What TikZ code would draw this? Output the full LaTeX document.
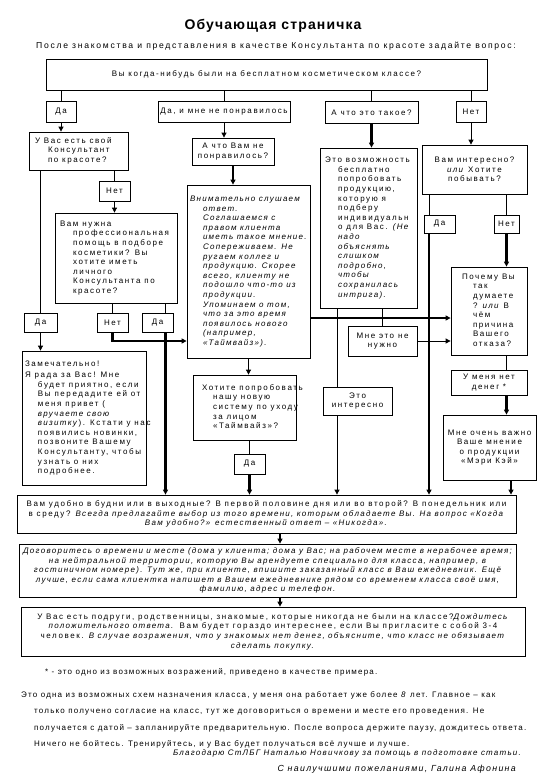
\documentclass[tikz,border=0pt]{standalone}
\usepackage{fontspec}
\setmainfont{Liberation Sans}[LetterSpace=20, ItalicFeatures={LetterSpace=16}]
\newfontfamily\headfont{Liberation Sans}[LetterSpace=8]
\newfontfamily\notefont{Liberation Sans}[LetterSpace=15]
\usetikzlibrary{arrows.meta,calc}

\newcommand{\hng}{\hspace*{13pt}}
\newcommand{\rows}[2][0pt]{\noindent\spaceskip=0pt\xspaceskip=0pt\hspace*{#1}\begin{tabular}{@{}l@{}}#2\end{tabular}}

\tikzset{
  box/.style={draw, line width=0.8pt, inner xsep=0.5pt, inner ysep=1pt,
    font=\fontsize{8}{9.6}\selectfont},
  lbox/.style={box, align=left, inner xsep=3pt},
  cbox/.style={box, align=center},
  sz/.style 2 args={minimum width=#1pt, minimum height=#2pt},
  lsz/.style 2 args={text width=#1pt, minimum height=#2pt},
  txt/.style={inner sep=0pt, font=\notefont\fontsize{8}{9.6}\selectfont},
  ln/.style={line width=0.8pt},
  thk/.style={line width=2.2pt},
  arr/.style={-{Triangle[length=5pt,width=5pt]}},
}

\begin{document}
\begin{tikzpicture}[x=1pt,y=-1pt]
% page
\fill[white] (0,0) rectangle (540,780);
\useasboundingbox (0,0) rectangle (540,780);

% heading
\node[font=\headfont\bfseries\fontsize{14}{16}\selectfont] (title) at (273,26) {Обучающая страничка};
\node[inner sep=0pt, anchor=west, font=\fontsize{8.6}{10}\selectfont] (intro) at (36,46) {После знакомства и представления в качестве Консультанта по красоте задайте вопрос:};

% first question and the answers
\node[cbox, sz={441}{31}] (q0) at (266.5,74.5) {Вы когда-нибудь были на бесплатном косметическом классе?};
\node[cbox, sz={30}{21}] (a1) at (61,111.5) {Да};
\node[cbox, sz={132}{21}] (a2) at (224,111.5) {Да, и мне не понравилось};
\node[cbox, sz={93}{22}] (a3) at (371.5,112.5) {А что это такое?};
\node[cbox, sz={30}{21}] (a4) at (471,111.5) {Нет};

% left column
\node[lbox, lsz={93}{38}] (b1) at (78.5,151) {\rows[3pt]{У Вас есть свой\\ \hng Консультант\\ \hng по красоте?}};
\node[cbox, sz={31}{20}] (c1) at (114.5,191) {Нет};
\node[lbox, lsz={116}{90}] (c2) at (116,258) {\rows[2pt]{Вам нужна\\ \hng профессиональная\\ \hng помощь в подборе\\ \hng косметики? Вы\\ \hng хотите иметь\\ \hng личного\\ \hng Консультанта по\\ \hng красоте?}};
\node[cbox, sz={33}{19}] (d1) at (40.5,322.5) {Да};
\node[cbox, sz={31}{19}] (d2) at (112.5,322.5) {Нет};
\node[cbox, sz={31}{19}] (d3) at (157.5,322.5) {Да};
\node[lbox, lsz={118}{134}] (e1) at (84,418) {\rows{Замечательно!\\[2pt] Я рада за Вас! Мне\\ \hng будет приятно, если\\ \hng Вы передадите ей от\\ \hng меня привет (\\ \hng\textit{вручаете свою}\\ \hng\textit{визитку}). Кстати у нас\\ \hng появились новинки,\\ \hng позвоните Вашему\\ \hng Консультанту, чтобы\\ \hng узнать о них\\ \hng подробнее.}};

% middle column
\node[cbox, sz={82}{27}] (b2) at (233,151.5) {А что Вам не\\ понравилось?};
\node[lbox, lsz={117}{173}, font=\fontsize{8}{9.6}\selectfont\itshape] (f1) at (248.5,271.5) {\rows{Внимательно слушаем\\ \hng ответ.\\ \hng Соглашаемся с\\ \hng правом клиента\\ \hng иметь такое мнение.\\ \hng Сопереживаем. Не\\ \hng ругаем коллег и\\ \hng продукцию. Скорее\\ \hng всего, клиенту не\\ \hng подошло что-то из\\ \hng продукции.\\ \hng Упоминаем о том,\\ \hng что за это время\\ \hng появилось нового\\ \hng (например,\\ \hng «Таймвайз»).}};
\node[lbox, lsz={97}{65}] (f2) at (244.5,407.5) {\rows[6pt]{Хотите попробовать\\ \hspace*{11pt}нашу новую\\ \hspace*{11pt}систему по уходу\\ \hspace*{11pt}за лицом\\ \hspace*{11pt}«Таймвайз»?}};
\node[cbox, sz={31}{20}] (f3) at (249.5,464) {Да};

% "what is it" column
\node[lbox, lsz={91}{160}] (b3) at (368.5,228) {\rows[2pt]{Это возможность\\ \hng бесплатно\\ \hng попробовать\\ \hng продукцию,\\ \hng которую я\\ \hng подберу\\ \hng индивидуальн\\ \hng о для Вас. \textit{(Не}\\ \hng\textit{надо}\\ \hng\textit{объяснять}\\ \hng\textit{слишком}\\ \hng\textit{подробно,}\\ \hng\textit{чтобы}\\ \hng\textit{сохранилась}\\ \hng\textit{интрига).}}};
\node[cbox, sz={69}{30}] (g1) at (382.5,341) {Мне это не\\ нужно};
\node[cbox, sz={69}{28}] (g2) at (357.5,401) {Это\\ интересно};

% right column
\node[cbox, sz={105}{49}] (b4) at (474.5,169.5) {Вам интересно?\\ \textit{или} Хотите\\ побывать?};
\node[cbox, sz={31}{18}] (h1) at (439.5,224) {Да};
\node[cbox, sz={25}{18}] (h2) at (506.5,224) {Нет};
\node[lbox, lsz={70}{88}] (h3) at (489,311) {\rows[8pt]{Почему Вы\\ \hspace*{11pt}так\\ \hspace*{11pt}думаете\\ \hspace*{11pt}? \textit{или} В\\ \hspace*{11pt}чём\\ \hspace*{11pt}причина\\ \hspace*{11pt}Вашего\\ \hspace*{11pt}отказа?}};
\node[cbox, sz={76}{25}] (h4) at (489,382.5) {У меня нет\\ денег *};
\node[cbox, sz={93}{65}] (h5) at (489.5,447.5) {Мне очень важно\\ Ваше мнение\\ о продукции\\ «Мэри Кэй»};

% bottom boxes
\node[cbox, sz={499}{38}] (B1) at (266.5,514) {Вам удобно в будни или в выходные? В первой половине дня или во второй? В понедельник или\\ в среду? \textit{Всегда предлагайте выбор из того времени, которым обладаете Вы. На вопрос «Когда}\\ \textit{Вам удобно?» естественный ответ – «Никогда».}};
\node[cbox, sz={497}{53}, font=\fontsize{8}{9.6}\selectfont\itshape] (B2) at (267.5,570.5) {Договоритесь о времени и месте (дома у клиента; дома у Вас; на рабочем месте в нерабочее время;\\ на нейтральной территории, которую Вы арендуете специально для класса, например, в\\ гостиничном номере). Тут же, при клиенте, впишите заказанный класс в Ваш ежедневник. Ещё\\ лучше, если сама клиентка напишет в Вашем ежедневнике рядом со временем класса своё имя,\\ фамилию, адрес и телефон.};
\node[cbox, sz={504}{49}] (B3) at (273,631.5) {У Вас есть подруги, родственницы, знакомые, которые никогда не были на классе?\textit{Дождитесь}\\ \textit{положительного ответа.} Вам будет гораздо интереснее, если Вы пригласите с собой 3-4\\ человек. \textit{В случае возражения, что у знакомых нет денег, объясните, что класс не обязывает}\\ \textit{сделать покупку.}};

% notes
\node[txt, anchor=west] (fn) at (45,672) {* - это одно из возможных возражений, приведено в качестве примера.};
\node[txt, anchor=north west, align=left, font=\notefont\fontsize{8}{16.5}\selectfont] (note) at (21,691) {Это одна из возможных схем назначения класса, у меня она работает уже более \textit{8} лет. Главное – как\\ \hng только получено согласие на класс, тут же договориться о времени и месте его проведения. Не\\ \hng получается с датой – запланируйте предварительную. После вопроса держите паузу, дождитесь ответа.\\ \hng Ничего не бойтесь. Тренируйтесь, и у Вас будет получаться всё лучше и лучше.};
\node[txt, anchor=east, font=\notefont\fontsize{8}{9.6}\selectfont\itshape] (thx) at (521,753) {Благодарю СтЛБГ Наталью Новичкову за помощь в подготовке статьи.};
\node[txt, anchor=east, font=\notefont\fontsize{8.8}{11}\selectfont\itshape] (sign) at (516,769) {С наилучшими пожеланиями, Галина Афонина};

% connectors from the first question
\draw[ln] (a1.north |- q0.south) -- (a1.north);
\draw[ln] (a2.north |- q0.south) -- (a2.north);
\draw[ln] (a3.north |- q0.south) -- (a3.north);
\draw[ln] (a4.north |- q0.south) -- (a4.north);
\draw[ln,arr] (a1.south) -- (a1.south |- b1.north);
\draw[ln,arr] (a2.south) -- (a2.south |- b2.north);
\draw[thk,arr] (a3.south) -- (a3.south |- b3.north);
\draw[ln,arr] (a4.south) -- (a4.south |- b4.north);

% left column
\coordinate (colD3) at (165.5,0);
\coordinate (rowD2) at (0,341);
\draw[ln] (c1.north |- b1.south) -- (c1.north);
\draw[ln,arr] (c1.south) -- (c1.south |- c2.north);
\draw[ln] (d1.north |- b1.south) -- (d1.north);
\draw[ln,arr] (d1.south) -- (d1.south |- e1.north);
\draw[ln] (d2.north |- c2.south) -- (d2.north);
\draw[ln] (colD3 |- c2.south) -- (colD3 |- d3.north);
\draw[thk,arr] (d2.south) |- (f1.west |- rowD2);
\draw[thk,arr] (colD3 |- d3.south) -- (colD3 |- B1.north);

% middle column
\coordinate (rowF1) at (0,318);
\draw[thk,arr] (b2.south) -- (b2.south |- f1.north);
\draw[ln,arr] (f1.south) -- (f1.south |- f2.north);
\draw[ln] (f3.north |- f2.south) -- (f3.north);
\draw[thk,arr] (f3.south) -- (f3.south |- B1.north);
\draw[thk,arr] (f1.east |- rowF1) -- (h3.west |- rowF1);

% "what is it" column
\coordinate (colG2) at (337,0);
\draw[ln] (colG2 |- b3.south) -- (colG2 |- g2.north);
\draw[ln,arr] (colG2 |- g2.south) -- (colG2 |- B1.north);
\draw[ln] (g1.north |- b3.south) -- (g1.north);
\draw[ln,arr] (g1.east) -- (g1.east -| h3.west);

% right column
\coordinate (colH1) at (429,0);
\coordinate (colH5) at (511,0);
\draw[ln] (colH1 |- b4.south) -- (colH1 |- h1.north);
\draw[thk,arr] (colH1 |- h1.south) -- (colH1 |- B1.north);
\draw[ln] (h2.north |- b4.south) -- (h2.north);
\draw[thk,arr] (h2.south) -- (h2.south |- h3.north);
\draw[ln] (h2.south |- h3.south) -- (h2.south |- h4.north);
\draw[thk,arr] (h2.south |- h4.south) -- (h2.south |- h5.north);
\draw[thk,arr] (colH5 |- h5.south) -- (colH5 |- B1.north);

% bottom chain
\coordinate (colB) at (280,0);
\draw[thk,arr] (colB |- B1.south) -- (colB |- B2.north);
\draw[thk,arr] (colB |- B2.south) -- (colB |- B3.north);
\end{tikzpicture}
\end{document}
